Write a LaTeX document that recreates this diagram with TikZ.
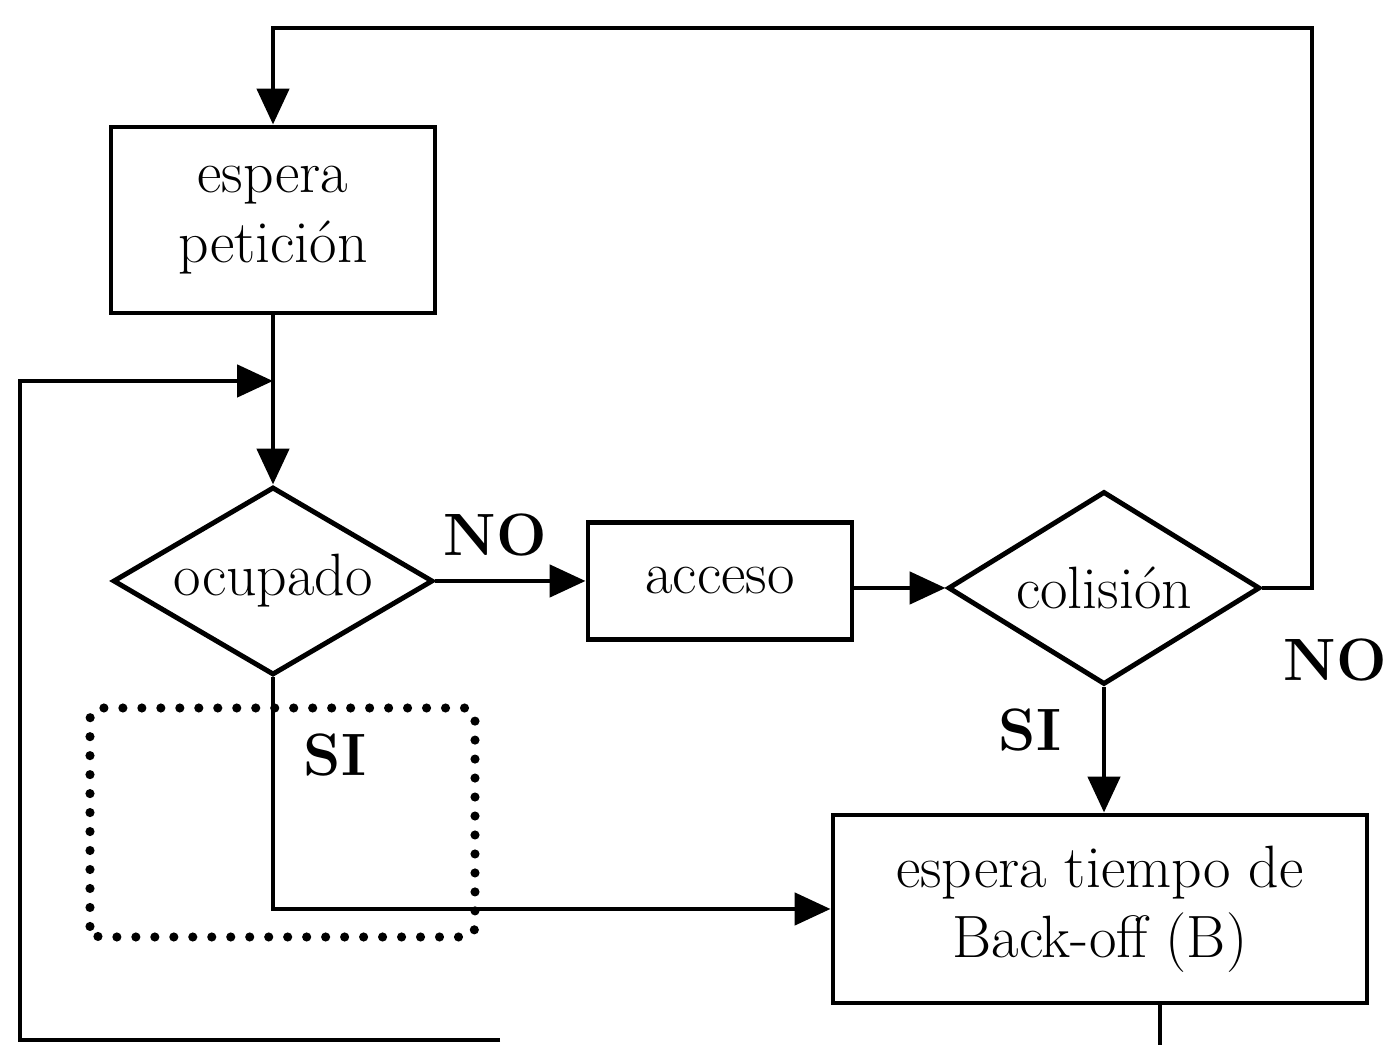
\documentclass[tikz,border=0pt]{standalone}
\usepackage{tikz}
\usetikzlibrary{arrows.meta, calc, positioning, shapes.geometric}
\tikzset{
  box/.style      = {draw, line width=1.4pt, align=center, inner sep=2pt},
  decision/.style = {draw, diamond, line width=1.4pt, inner sep=0pt, aspect=1.7},
  flow/.style     = {-{Triangle[length=3.6mm, width=3.2mm]}, line width=1.4pt},
  wire/.style     = {line width=1.4pt},
  group/.style    = {line width=2.6pt, line cap=round, dash pattern=on 0pt off 5.4pt, rounded corners=3pt},
  lbl/.style      = {font=\fontsize{17}{20}\selectfont\bfseries},
  every node/.append style = {font=\fontsize{17}{20}\selectfont},
}

\begin{document}
\begin{tikzpicture}
  \useasboundingbox (0,0) rectangle (13.85,10.45);
  % boxes and decisions
  \node[box, minimum width=3.24cm, minimum height=1.86cm] (esp) at (2.73, 8.25) {espera\\petición};
  \node[decision, minimum width=3.20cm, minimum height=1.88cm] (ocu) at (2.73, 4.64) {\makebox[0pt]{ocupado}};
  \node[box, minimum width=2.64cm, minimum height=1.17cm] (acc) at (7.20, 4.64) {acceso};
  \node[decision, minimum width=3.12cm, minimum height=1.93cm] (col) at (11.04, 4.57) {\makebox[0pt]{colisión}};
  \node[box, minimum width=5.34cm, minimum height=1.88cm] (bo) at (11.00, 1.36) {espera tiempo de\\Back-off (B)};
  % helper points
  \coordinate (topr) at (13.12, 10.17);
  \coordinate (jn)   at (2.73, 6.64);
  \coordinate (bl)   at (0.20, 0.05);
  \coordinate (bx)   at (5.00, 0.05);
  \coordinate (bos)  at (11.60, 0.00);
  % dotted group
  \draw[group] (0.90, 1.08) rectangle (4.75, 3.37);
  % connectors
  \draw[flow] (col.east) -| (topr) -| (esp.north);
  \draw[flow] (esp.south) -- (ocu.north);
  \draw[flow] (bx) -- (bl) |- (jn);
  \draw[flow] (ocu.east) -- (acc.west);
  \draw[flow] (acc.east |- col.west) -- (col.west);
  \draw[flow] (col.south) -- (col.south |- bo.north);
  \draw[flow] (ocu.south) |- (bo.west);
  \draw[wire] (bo.south -| bos) -- (bos);
  % labels
  \node[lbl] (no1) at (4.95, 5.10) {NO};
  \node[lbl] (no2) at (13.35, 3.85) {NO};
  \node[lbl] (si1) at (3.35, 2.90) {SI};
  \node[lbl] (si2) at (10.30, 3.15) {SI};
\end{tikzpicture}
\end{document}
